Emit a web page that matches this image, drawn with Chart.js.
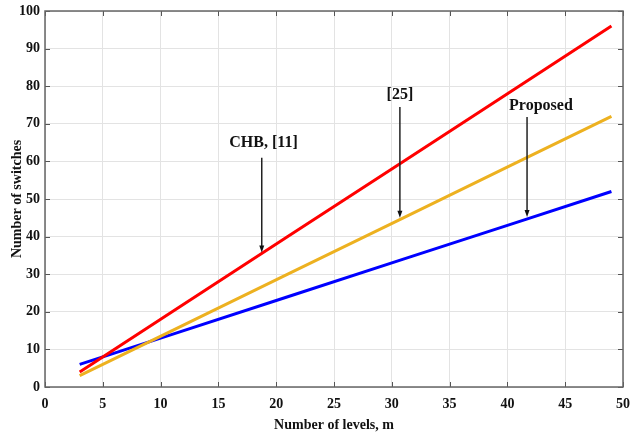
<!DOCTYPE html>
<html>
<head>
<meta charset="utf-8">
<script src="https://cdn.jsdelivr.net/npm/chart.js@4"></script>
<style>
  html, body { margin: 0; padding: 0; background: #fff; }
  #wrap { width: 630px; height: 434px; }
</style>
</head>
<body>
<div id="wrap"><canvas id="chart"></canvas></div>
<script>
// number of levels (x) and number of switches (y) for each topology
const levels = [3, 11, 21, 31, 41, 49];
const chbValues = [4, 20, 40, 60, 80, 96];
const ref25Values = [3, 15, 30, 45, 60, 72];
const proposedValues = [6, 14, 24, 34, 44, 52];

const xTicks = [0, 5, 10, 15, 20, 25, 30, 35, 40, 45, 50];
const yTicks = [0, 10, 20, 30, 40, 50, 60, 70, 80, 90, 100];

// arrow labels: text, arrow x, arrow head y, arrow tail y, label x, label y
const labelTexts = ['CHB, [11]', '[25]', 'Proposed'];
const arrowX = [18.75, 30.7, 41.7];
const arrowHeadY = [35.8, 45, 45.2];
const arrowTailY = [61, 74.5, 71.8];
const labelX = [18.9, 30.7, 42.9];
const labelY = [64.9, 77.6, 74.8];

const serif = '"Liberation Serif", "Times New Roman", serif';

const toPoints = (xs, ys) => xs.map((x, i) => ({ x: x, y: ys[i] }));

const boxAndArrows = {
    id: 'boxAndArrows',
    afterDatasetsDraw(chart) {
        const ctx = chart.ctx;
        const a = chart.chartArea;
        const xs = chart.scales.x;
        const ys = chart.scales.y;
        ctx.save();
        // inner ticks on all four sides
        ctx.strokeStyle = '#555';
        ctx.lineWidth = 1;
        ctx.beginPath();
        xTicks.forEach(v => {
            let px = Math.round(xs.getPixelForValue(v)) + 0.5;
            ctx.moveTo(px, a.bottom); ctx.lineTo(px, a.bottom - 5);
            ctx.moveTo(px, a.top); ctx.lineTo(px, a.top + 5);
        });
        yTicks.forEach(v => {
            let py = Math.round(ys.getPixelForValue(v)) + 0.5;
            ctx.moveTo(a.left, py); ctx.lineTo(a.left + 5, py);
            ctx.moveTo(a.right, py); ctx.lineTo(a.right - 5, py);
        });
        ctx.stroke();
        ctx.strokeStyle = '#666';
        ctx.lineWidth = 1.5;
        ctx.strokeRect(a.left, a.top, a.right - a.left, a.bottom - a.top);

        // arrows with labels
        ctx.strokeStyle = '#222';
        ctx.fillStyle = '#111';
        ctx.lineWidth = 1.5;
        labelTexts.forEach((t, i) => {
            let x = xs.getPixelForValue(arrowX[i]);
            let y1 = ys.getPixelForValue(arrowTailY[i]);
            let y2 = ys.getPixelForValue(arrowHeadY[i]);
            ctx.beginPath();
            ctx.moveTo(x, y1);
            ctx.lineTo(x, y2 - 5);
            ctx.stroke();
            ctx.beginPath();
            ctx.moveTo(x, y2);
            ctx.lineTo(x - 2.5, y2 - 7);
            ctx.lineTo(x + 2.5, y2 - 7);
            ctx.closePath();
            ctx.fill();
            ctx.font = 'bold 16px ' + serif;
            ctx.textAlign = 'center';
            ctx.textBaseline = 'middle';
            ctx.fillText(t, xs.getPixelForValue(labelX[i]), ys.getPixelForValue(labelY[i]));
        });
        ctx.restore();
    }
};

new Chart(document.getElementById('chart'), {
    type: 'line',
    data: {
        datasets: [
            { label: 'CHB, [11]', data: toPoints(levels, chbValues), borderColor: '#ff0000', borderWidth: 3, pointRadius: 0, tension: 0 },
            { label: '[25]', data: toPoints(levels, ref25Values), borderColor: '#edb120', borderWidth: 3, pointRadius: 0, tension: 0 },
            { label: 'Proposed', data: toPoints(levels, proposedValues), borderColor: '#0000ff', borderWidth: 3, pointRadius: 0, tension: 0 }
        ]
    },
    options: {
        responsive: true,
        maintainAspectRatio: false,
        animation: false,
        layout: { padding: { top: 11, right: 7, left: 0, bottom: 0 } },
        plugins: {
            legend: { display: false },
            tooltip: { enabled: false }
        },
        scales: {
            x: {
                type: 'linear',
                min: 0,
                max: 50,
                afterBuildTicks: axis => { axis.ticks = xTicks.map(v => ({ value: v })); },
                afterFit: axis => { axis.height = 47; axis.paddingLeft = 0; axis.paddingRight = 0; },
                grid: { color: '#e3e3e3', drawTicks: false },
                border: { display: false },
                ticks: { color: '#111', padding: 9, font: { family: serif, size: 14, weight: 'bold' }, maxRotation: 0 },
                title: { display: true, text: 'Number of levels, m', color: '#111', padding: { top: 3, bottom: 0 }, font: { family: serif, size: 14, weight: 'bold' } }
            },
            y: {
                type: 'linear',
                min: 0,
                max: 100,
                afterBuildTicks: axis => { axis.ticks = yTicks.map(v => ({ value: v })); },
                afterFit: axis => { axis.width = 45; axis.paddingTop = 0; axis.paddingBottom = 0; },
                grid: { color: '#e3e3e3', drawTicks: false },
                border: { display: false },
                ticks: { color: '#111', padding: 5, font: { family: serif, size: 14, weight: 'bold' } },
                title: { display: true, text: 'Number of switches', color: '#111', padding: { top: 9, bottom: 0 }, font: { family: serif, size: 14, weight: 'bold' } }
            }
        }
    },
    plugins: [boxAndArrows]
});
</script>
</body>
</html>
